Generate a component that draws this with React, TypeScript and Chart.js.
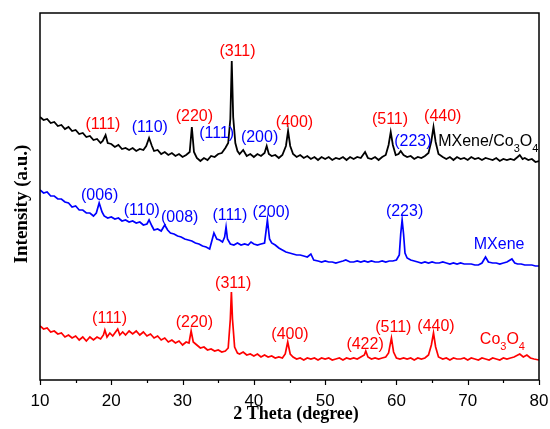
import React, { useEffect, useRef } from 'react';
import { Chart, registerables } from 'chart.js';

Chart.register(...registerables);

// 2θ (degree) / intensity (a.u., curves stacked with vertical offset)
const compositePattern: [number, number][] = [
  [10, 262], [10.5, 259], [11, 260], [11.5, 256], [12, 257], [12.5, 253], [13, 254], [13.5, 250],
  [14, 252], [14.5, 248], [15, 249], [15.5, 245], [16, 246], [16.5, 242], [17, 243], [17.5, 239],
  [18, 240], [18.5, 236], [18.8, 238], [19.2, 244], [19.5, 236], [20, 235], [20.5, 232], [21, 234],
  [21.5, 230], [22, 231], [22.5, 229], [23, 231], [23.5, 228], [24, 230], [24.5, 229], [24.9, 233],
  [25.3, 241], [25.7, 233], [26, 228], [26.5, 229], [27, 225], [27.5, 227], [28, 224], [28.5, 226],
  [29, 223], [29.5, 225], [30, 222], [30.5, 224], [31, 227], [31.3, 252], [31.6, 227], [32, 221],
  [32.5, 218], [33, 221], [33.5, 219], [34, 223], [34.5, 222], [35, 225], [35.5, 226], [36, 231],
  [36.4, 236], [36.7, 260], [36.9, 318], [37.1, 262], [37.4, 236], [37.7, 228], [38, 225], [38.5, 229],
  [39, 223], [39.5, 225], [40, 222], [40.5, 225], [41, 223], [41.5, 226], [41.8, 233], [42.1, 225],
  [42.5, 223], [43, 224], [43.5, 221], [44, 224], [44.5, 233], [44.8, 248], [45.1, 233], [45.5, 225],
  [46, 222], [46.5, 224], [47, 221], [47.5, 223], [48, 220], [48.5, 222], [49, 219], [49.5, 222],
  [50, 220], [50.5, 222], [51, 219], [51.5, 221], [52, 220], [52.5, 222], [53, 219], [53.5, 222],
  [54, 220], [54.5, 222], [55, 221], [55.6, 227], [56, 221], [56.5, 220], [57, 222], [57.5, 219],
  [58, 222], [58.5, 224], [58.9, 234], [59.2, 247], [59.5, 234], [59.9, 224], [60.3, 225], [60.6, 228],
  [61, 224], [61.5, 222], [62, 223], [62.5, 220], [63, 222], [63.5, 221], [64, 223], [64.5, 226],
  [64.9, 238], [65.2, 252], [65.5, 237], [65.9, 225], [66.5, 222], [67, 220], [67.5, 222], [68, 219],
  [68.5, 222], [69, 220], [69.5, 221], [70, 219], [70.5, 222], [71, 220], [71.5, 221], [72, 219],
  [72.5, 221], [73, 220], [73.5, 219], [74, 221], [74.5, 218], [75, 220], [75.5, 219], [76, 220],
  [76.5, 219], [77, 222], [77.3, 224], [77.7, 220], [78, 221], [78.5, 219], [79, 220], [79.5, 217],
  [80, 218],
];

const mxenePattern: [number, number][] = [
  [10, 189], [10.5, 186], [11, 187], [11.5, 183], [12, 183], [12.5, 180], [13, 180], [13.5, 177],
  [14, 176], [14.5, 172], [15, 173], [15.5, 169], [16, 169], [16.5, 166], [17, 166], [17.5, 163],
  [17.9, 166], [18.3, 176], [18.7, 167], [19, 163], [19.5, 161], [20, 162], [20.5, 160], [21, 161],
  [21.5, 158], [22, 159], [22.5, 157], [23, 158], [23.5, 156], [24, 157], [24.5, 154], [25, 155],
  [25.3, 159], [25.7, 153], [26, 149], [26.5, 150], [27, 148], [27.5, 154], [27.9, 149], [28.3, 146],
  [28.8, 145], [29.3, 143], [29.8, 142], [30.3, 140], [30.8, 139], [31.3, 138], [31.8, 136], [32.3, 135],
  [32.8, 133], [33.3, 132], [33.8, 130], [34.1, 138], [34.4, 146], [34.8, 140], [35.2, 139], [35.6, 137],
  [35.9, 142], [36.1, 152], [36.3, 140], [36.7, 135], [37.2, 134], [37.7, 136], [38.2, 134], [38.7, 135],
  [39.2, 134], [39.6, 137], [40, 135], [40.5, 134], [41, 135], [41.5, 136], [41.9, 159], [42.2, 140],
  [42.5, 136], [43, 134], [43.5, 131], [44, 129], [44.5, 127], [45, 126], [45.5, 125], [46, 124],
  [46.5, 124], [47, 123], [47.5, 122], [48, 125], [48.4, 119], [49, 118], [49.5, 117], [50, 118],
  [50.5, 117], [51, 117], [51.5, 116], [52, 117], [52.5, 118], [52.9, 119], [53.5, 117], [54, 117],
  [54.5, 118], [55, 117], [55.5, 118], [56, 117], [56.5, 118], [57, 117], [57.5, 117], [58, 118],
  [58.5, 117], [59, 118], [59.5, 118], [60, 119], [60.4, 124], [60.6, 145], [60.8, 159], [61, 145],
  [61.2, 126], [61.5, 121], [62, 119], [62.5, 118], [63, 117], [63.5, 116], [64, 117], [64.5, 116],
  [65, 117], [65.5, 116], [66, 116], [66.5, 117], [67, 116], [67.5, 115], [68, 116], [68.5, 115],
  [69, 116], [69.5, 115], [70, 115], [70.5, 115], [71, 114], [71.5, 114], [72, 116], [72.5, 122],
  [72.9, 117], [73.5, 116], [74, 116], [74.5, 115], [75, 116], [75.5, 117], [76.2, 120], [76.6, 116],
  [77, 115], [77.5, 115], [78, 114], [78.5, 114], [79, 114], [79.5, 113], [80, 113],
];

const co3o4Pattern: [number, number][] = [
  [10, 53], [10.5, 50], [11, 51], [11.5, 47], [12, 48], [12.5, 45], [13, 46], [13.5, 42],
  [14, 44], [14.5, 41], [15, 43], [15.5, 39], [16, 42], [16.5, 38], [17, 42], [17.5, 39],
  [18, 42], [18.5, 40], [18.9, 44], [19.1, 49], [19.4, 42], [19.8, 46], [20.2, 43], [20.6, 47],
  [20.9, 50], [21.2, 44], [21.6, 47], [22, 44], [22.5, 48], [23, 45], [23.5, 48], [24, 44],
  [24.5, 47], [25, 43], [25.5, 45], [26, 41], [26.5, 43], [27, 39], [27.5, 41], [28, 37],
  [28.5, 39], [29, 36], [29.5, 38], [30, 34], [30.5, 37], [30.9, 36], [31.2, 48], [31.5, 37],
  [32, 34], [32.5, 31], [33, 32], [33.5, 29], [34, 30], [34.5, 28], [35, 29], [35.5, 27],
  [36, 28], [36.4, 31], [36.7, 60], [36.85, 87], [37, 60], [37.3, 32], [37.7, 26], [38, 25],
  [38.5, 27], [39, 24], [39.5, 25], [40, 23], [40.5, 25], [41, 22], [41.5, 24], [42, 22],
  [42.5, 23], [43, 21], [43.5, 22], [44, 21], [44.4, 25], [44.75, 37], [45.1, 25], [45.5, 22],
  [46, 20], [46.5, 21], [47, 19], [47.5, 21], [48, 20], [48.5, 21], [49, 19], [49.5, 21],
  [50, 20], [50.5, 21], [51, 19], [51.5, 20], [52, 21], [52.5, 19], [53, 21], [53.5, 20],
  [54, 21], [54.5, 20], [55, 22], [55.5, 24], [55.7, 28], [56, 22], [56.5, 20], [57, 21],
  [57.5, 20], [58, 21], [58.5, 22], [58.9, 26], [59.3, 41], [59.6, 27], [60, 21], [60.5, 20],
  [61, 21], [61.5, 20], [62, 21], [62.5, 19], [63, 21], [63.5, 20], [64, 21], [64.5, 24],
  [64.9, 34], [65.2, 46], [65.5, 32], [65.9, 22], [66.5, 20], [67, 21], [67.5, 19], [68, 21],
  [68.5, 20], [69, 20], [69.5, 21], [70, 19], [70.5, 21], [71, 20], [71.5, 19], [72, 21],
  [72.5, 20], [73, 19], [73.5, 21], [74, 20], [74.5, 19], [75, 21], [75.5, 20], [76, 21],
  [76.5, 22], [77.3, 25], [77.8, 22], [78.3, 24], [78.8, 21], [79.3, 20], [80, 19],
];

const xTicks = [10, 20, 30, 40, 50, 60, 70, 80];

// peak index labels: [text, 2θ, intensity, colour]
const RED = '#ff0000';
const BLUE = '#0000ff';
const peakLabels: [string, number, number, string][] = [
  ['(111)', 18.82, 254, RED], ['(110)', 25.4, 251.5, BLUE], ['(220)', 31.66, 262.5, RED],
  ['(311)', 37.7, 327.5, RED], ['(111)', 34.78, 245, BLUE], ['(200)', 40.8, 241, BLUE],
  ['(400)', 45.7, 256, RED], ['(511)', 59.1, 259, RED], ['(440)', 66.5, 262.7, RED],
  ['(223)', 62.3, 237.3, BLUE],
  ['(006)', 18.36, 183, BLUE], ['(110)', 24.28, 168, BLUE], ['(008)', 29.6, 161.5, BLUE],
  ['(111)', 36.64, 163, BLUE], ['(200)', 42.44, 166, BLUE], ['(223)', 61.14, 167.3, BLUE],
  ['MXene', 74.4, 134, BLUE],
  ['(111)', 19.76, 60, RED], ['(220)', 31.66, 56, RED], ['(311)', 37.1, 95, RED],
  ['(400)', 45.07, 44.5, RED], ['(422)', 55.6, 34, RED], ['(511)', 59.56, 51.5, RED],
  ['(440)', 65.55, 52.3, RED],
];

// sample names with subscripts: [parts, 2θ (left edge), intensity, colour]
const sampleNames: [[string, boolean][], number, number, string][] = [
  [[['MXene/Co', false], ['3', true], ['O', false], ['4', true]], 65.85, 237.5, '#000000'],
  [[['Co', false], ['3', true], ['O', false], ['4', true]], 71.7, 39, RED],
];

const SANS = '"Liberation Sans", Arial, sans-serif';
const SERIF = '"Liberation Serif", "Times New Roman", serif';

const decorPlugin = {
  id: 'decor',
  afterDraw(chart: any) {
    const { ctx, chartArea: a, scales } = chart;
    const xs = scales.x;
    const ys = scales.y;
    ctx.save();
    // frame
    ctx.strokeStyle = '#000';
    ctx.lineWidth = 1.5;
    ctx.strokeRect(a.left, a.top, a.right - a.left, a.bottom - a.top);
    // bottom ticks (outward)
    ctx.lineWidth = 1.2;
    for (let v = 10; v <= 80; v += 5) {
      const px = Math.round(xs.getPixelForValue(v)) + 0.5;
      const len = v % 10 === 0 ? 5 : 3;
      ctx.beginPath();
      ctx.moveTo(px, a.bottom);
      ctx.lineTo(px, a.bottom + len);
      ctx.stroke();
    }
    // peak labels
    ctx.font = `16px ${SANS}`;
    ctx.textAlign = 'center';
    ctx.textBaseline = 'middle';
    for (const [t, x, y, c] of peakLabels) {
      ctx.fillStyle = c;
      ctx.fillText(t, xs.getPixelForValue(x), ys.getPixelForValue(y));
    }
    // sample names
    ctx.textAlign = 'left';
    for (const [parts, x, y, c] of sampleNames) {
      let px = xs.getPixelForValue(x);
      const py = ys.getPixelForValue(y);
      ctx.fillStyle = c;
      for (const [s, sub] of parts) {
        ctx.font = sub ? `11px ${SANS}` : `16px ${SANS}`;
        ctx.fillText(s, px, sub ? py + 7 : py);
        px += ctx.measureText(s).width;
      }
    }
    // axis titles
    ctx.fillStyle = '#000';
    ctx.font = `bold 18px ${SERIF}`;
    ctx.textAlign = 'center';
    ctx.textBaseline = 'middle';
    ctx.fillText('2 Theta (degree)', 296, 414);
    ctx.translate(22, 204);
    ctx.rotate(-Math.PI / 2);
    ctx.font = `bold 19px ${SERIF}`;
    ctx.fillText('Intensity (a.u.)', 0, 0);
    ctx.restore();
  },
};

export default function App() {
  const ref = useRef<HTMLCanvasElement>(null);
  useEffect(() => {
    document.body.style.margin = '0';
    const canvas = ref.current;
    if (!canvas) return;
    const mk = (pts: [number, number][], color: string, w: number) => ({
      data: pts.map(([x, y]) => ({ x, y })),
      borderColor: color,
      borderWidth: w,
      pointRadius: 0,
      tension: 0,
      fill: false,
    });
    const chart = new Chart(canvas, {
      type: 'line',
      data: {
        datasets: [
          mk(compositePattern, '#000000', 1.8),
          mk(mxenePattern, '#0000ff', 1.7),
          mk(co3o4Pattern, '#ff0000', 1.7),
        ],
      },
      options: {
        responsive: false,
        animation: false,
        devicePixelRatio: 1,
        layout: { padding: { left: 40, right: 11, top: 13, bottom: 0 } },
        plugins: { legend: { display: false }, tooltip: { enabled: false } },
        scales: {
          x: {
            type: 'linear',
            min: 10,
            max: 80,
            afterBuildTicks: (s: any) => {
              s.ticks = xTicks.map((v) => ({ value: v }));
            },
            ticks: {
              color: '#000',
              font: { family: SANS, size: 17 },
              padding: 11,
              maxRotation: 0,
              autoSkip: false,
            },
            grid: { display: false, drawTicks: false },
            border: { display: false },
            afterFit: (s: any) => {
              s.height = 49;
              s.paddingLeft = 0;
              s.paddingRight = 0;
            },
          },
          y: { display: false, min: -1, max: 366 },
        },
      },
      plugins: [decorPlugin],
    } as any);
    return () => chart.destroy();
  }, []);
  return (
    <div style={{ width: 550, height: 429 }}>
      <canvas ref={ref} width={550} height={429} style={{ display: 'block' }} />
    </div>
  );
}
